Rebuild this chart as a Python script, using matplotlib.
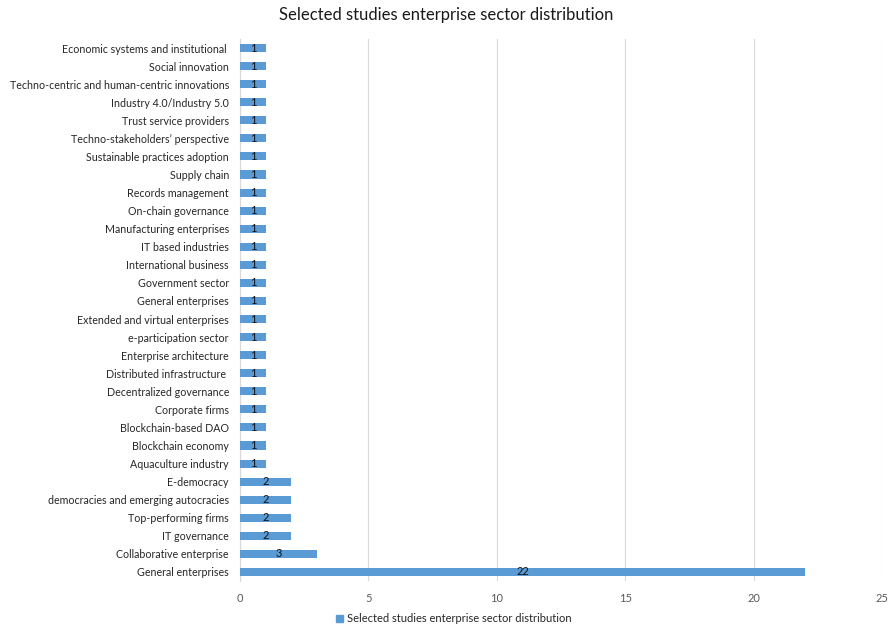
import matplotlib.pyplot as plt
import matplotlib.patches as mpatches

# categories listed bottom to top
sectors = [
    "General enterprises",
    "Collaborative enterprise",
    "IT governance",
    "Top-performing firms",
    "democracies and emerging autocracies",
    "E-democracy",
    "Aquaculture industry",
    "Blockchain economy",
    "Blockchain-based DAO",
    "Corporate firms",
    "Decentralized governance",
    "Distributed infrastructure ",
    "Enterprise architecture",
    "e-participation sector",
    "Extended and virtual enterprises",
    "General enterprises",
    "Government sector",
    "International business",
    "IT based industries",
    "Manufacturing enterprises",
    "On-chain governance",
    "Records management",
    "Supply chain",
    "Sustainable practices adoption",
    "Techno-stakeholders\u2019 perspective",
    "Trust service providers",
    "Industry 4.0/Industry 5.0",
    "Techno-centric and human-centric innovations",
    "Social innovation",
    "Economic systems and institutional ",
]
counts = [22, 3, 2, 2, 2, 2] + [1] * 24
x_ticks = [0, 5, 10, 15, 20, 25]

SERIES = "Selected studies enterprise sector distribution"
BLUE = "#5B9BD5"
GREY = "#595959"

plt.rcParams["font.family"] = ["Lato", "DejaVu Sans"]

fig = plt.figure(figsize=(8.92, 6.26), dpi=100)
ax = fig.add_axes([240 / 892, 1 - 581 / 626, 642 / 892, 542 / 626])

pos = list(range(len(sectors)))
ax.barh(pos, counts, height=0.45, color=BLUE, zorder=3)

for y, v in zip(pos, counts):
    ax.text(v / 2, y, str(v), ha="center", va="center", fontsize=8,
            color="#111111", zorder=4)

ax.set_yticks(pos)
ax.set_yticklabels(sectors, fontsize=7.7, color="#262626")
ax.set_ylim(-0.5, len(sectors) - 0.5)
ax.set_xlim(0, 25)
ax.set_xticks(x_ticks)
ax.tick_params(axis="x", labelsize=8, labelcolor=GREY, length=0, pad=9)
ax.tick_params(axis="y", length=0, pad=8)
ax.grid(axis="x", color="#d9d9d9", linewidth=0.8, zorder=0)

for side in ["top", "right", "bottom"]:
    ax.spines[side].set_visible(False)
ax.spines["left"].set_color("#d9d9d9")
ax.spines["left"].set_linewidth(0.8)

fig.suptitle(SERIES, y=1 - 15 / 626, va="center", fontsize=12, color="#1a1a1a")

handle = mpatches.Patch(color=BLUE, label=SERIES)
fig.legend(handles=[handle], loc="center", bbox_to_anchor=(454 / 892, 1 - 619 / 626),
           frameon=False, fontsize=8, handlelength=0.6, handleheight=0.6,
           handletextpad=0.4, labelcolor="#262626")

fig.savefig("out.png", dpi=100)
